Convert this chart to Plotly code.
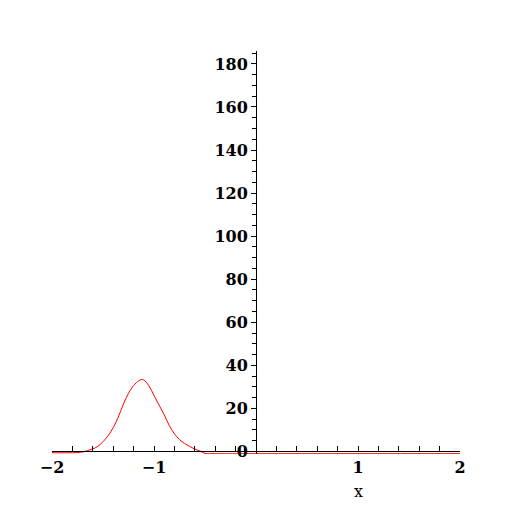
import plotly.graph_objects as go

x_vals = [-2.0, -1.8, -1.7, -1.65, -1.6, -1.55, -1.5, -1.45, -1.4, -1.35, -1.3, -1.25,
          -1.2, -1.15, -1.12, -1.1, -1.05, -1.0, -0.95, -0.9, -0.85, -0.8, -0.75, -0.7,
          -0.65, -0.6, -0.55, -0.5, -0.4, 0.0, 1.0, 2.0]
y_vals = [-0.6, -0.6, -0.3, 0.4, 1.2, 2.4, 4.5, 7.3, 11.0, 16.0, 22.0, 27.0,
          30.6, 32.8, 33.4, 33.2, 30.5, 26.0, 21.5, 17.0, 12.0, 8.2, 5.5, 3.7,
          2.3, 1.1, 0.2, -0.9, -1.05, -1.05, -1.05, -1.05]

x_ticks = [-2, -1, 1, 2]
x_tick_text = ["\u22122", "\u22121", "1", "2"]
y_ticks = [0, 20, 40, 60, 80, 100, 120, 140, 160, 180]

x_range = [-2, 2]
y_range = [-1.2, 186]

fig = go.Figure()
fig.add_trace(go.Scatter(x=x_vals, y=y_vals, mode="lines",
                         line=dict(color="#ff0000", width=1), line_shape="spline",
                         hoverinfo="skip", showlegend=False, cliponaxis=False))

font = dict(family="DejaVu Serif", size=16, color="black", weight="bold")

fig.update_layout(
    width=512, height=512,
    margin=dict(l=44, r=60, t=43, b=66),
    paper_bgcolor="white", plot_bgcolor="white",
    showlegend=False,
    xaxis=dict(range=x_range, showgrid=False, zeroline=False, automargin=False,
               showline=True, linecolor="black", linewidth=1,
               anchor="free", position=(0 - y_range[0]) / (y_range[1] - y_range[0]),
               tickvals=x_ticks, ticktext=x_tick_text, ticks="inside", ticklen=5,
               tickcolor="black", tickfont=font, ticklabelstandoff=1,
               minor=dict(dtick=0.2, tick0=0, ticks="inside", ticklen=5, tickcolor="black")),
    yaxis=dict(range=y_range, showgrid=False, zeroline=False, automargin=False,
               showline=True, linecolor="black", linewidth=1,
               anchor="free", position=0.5,
               tickvals=y_ticks, ticks="outside", ticklen=5,
               tickcolor="black", tickfont=font,
               minor=dict(dtick=5, tick0=0, ticks="outside", ticklen=4, tickcolor="black")),
    annotations=[dict(x=1, y=-0.094, xref="x", yref="paper", yanchor="middle",
                      text="x", showarrow=False,
                      font=dict(family="DejaVu Serif", size=16, color="black"))],
)

fig.write_html("out.html")
